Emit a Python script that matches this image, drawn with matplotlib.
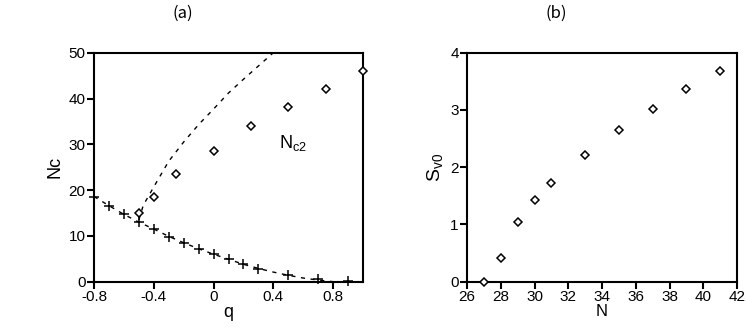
import matplotlib
matplotlib.use("Agg")
import matplotlib.pyplot as plt

plt.rcParams['font.family'] = ['Liberation Sans', 'DejaVu Sans']
plt.rcParams['mathtext.fontset'] = 'custom'
plt.rcParams['mathtext.rm'] = 'Liberation Sans'

# ---- Panel (a) data ----
q_cross = [-0.8, -0.7, -0.6, -0.5, -0.4, -0.3, -0.2, -0.1, 0.0, 0.1, 0.2, 0.3, 0.5, 0.7, 0.9]
nc1_cross = [18.6, 16.6, 14.7, 13.0, 11.5, 9.85, 8.5, 7.15, 6.0, 4.9, 3.8, 2.85, 1.45, 0.6, 0.15]

q_diam = [-0.5, -0.4, -0.25, 0.0, 0.25, 0.5, 0.75, 1.0]
nc2_diam = [15.0, 18.6, 23.5, 28.5, 34.0, 38.1, 42.1, 46.1]

q_fit_low = [-0.8, -0.7, -0.6, -0.5, -0.4, -0.3, -0.2, -0.1, 0.0, 0.1, 0.2, 0.3, 0.4, 0.5, 0.6, 0.7, 0.8]
nc_fit_low = [18.6, 16.6, 14.7, 13.0, 11.5, 9.9, 8.5, 7.2, 6.0, 4.9, 3.8, 2.9, 2.1, 1.4, 0.8, 0.35, 0.0]

q_fit_up = [-0.5, -0.47, -0.4, -0.3, -0.2, -0.1, 0.0, 0.1, 0.2, 0.3, 0.4]
nc_fit_up = [13.5, 16.7, 20.7, 26.3, 30.5, 34.3, 37.7, 41.2, 44.2, 47.1, 50.0]

# ---- Panel (b) data ----
N_vals = [27, 28, 29, 30, 31, 33, 35, 37, 39, 41]
sv0_vals = [0.0, 0.415, 1.04, 1.42, 1.73, 2.22, 2.645, 3.02, 3.37, 3.68]

a_xticks = [-0.8, -0.4, 0, 0.4, 0.8]
a_xticklabels = ['-0.8', '-0.4', '0', '0.4', '0.8']
a_yticks = [0, 10, 20, 30, 40, 50]
b_xticks = [26, 28, 30, 32, 34, 36, 38, 40, 42]
b_yticks = [0, 1, 2, 3, 4]

fig = plt.figure(figsize=(7.47, 3.27), dpi=100)
axa = fig.add_axes([94/747, 1-281.7/327, 269/747, 229/327])
axb = fig.add_axes([467/747, 1-281.7/327, 270/747, 229/327])

dash = (0, (3, 4))
mk_d = dict(marker='D', markersize=4, markerfacecolor='white', markeredgecolor='black',
            markeredgewidth=1.1, linestyle='none', clip_on=False, zorder=5)

axa.plot(q_fit_low, nc_fit_low, color='black', lw=1.0, linestyle=dash)
axa.plot(q_fit_up, nc_fit_up, color='black', lw=1.0, linestyle=dash)
axa.plot(q_cross, nc1_cross, marker='+', markersize=7, markeredgewidth=1.1, color='black',
         linestyle='none', clip_on=False, zorder=5)
axa.plot(q_diam, nc2_diam, **mk_d)
axa.set_xlim(-0.8, 1.0)
axa.set_ylim(0, 50)
axa.set_xticks(a_xticks)
axa.set_xticklabels(a_xticklabels)
axa.set_yticks(a_yticks)
axa.set_xlabel('q', fontsize=13, labelpad=0)
axa.set_ylabel('Nc', fontsize=13, labelpad=4)
axa.text(0.44, 29.2, r'$\mathregular{N_{c2}}$', fontsize=13,
         family=['Liberation Sans Narrow', 'Liberation Sans', 'DejaVu Sans'],
         ha='left', va='baseline')

axb.plot(N_vals, sv0_vals, **mk_d)
axb.set_xlim(26, 42)
axb.set_ylim(0, 4)
axb.set_xticks(b_xticks)
axb.set_yticks(b_yticks)
axb.set_xlabel('N', fontsize=12, labelpad=0)
axb.set_ylabel(r'$\mathregular{S_{v0}}$', fontsize=14, labelpad=4)

for ax in (axa, axb):
    for s in ax.spines.values():
        s.set_linewidth(1.5)
    ax.tick_params(direction='out', length=5, width=1.5, labelsize=11, pad=1)

fig.text(183/747, 1-13/327, '(a)', fontsize=12, ha='center', va='center',
         family=['Noto Sans CJK JP', 'DejaVu Sans'])
fig.text(556/747, 1-13/327, '(b)', fontsize=12, ha='center', va='center',
         family=['Noto Sans CJK JP', 'DejaVu Sans'])

fig.savefig('out.png', dpi=100)
